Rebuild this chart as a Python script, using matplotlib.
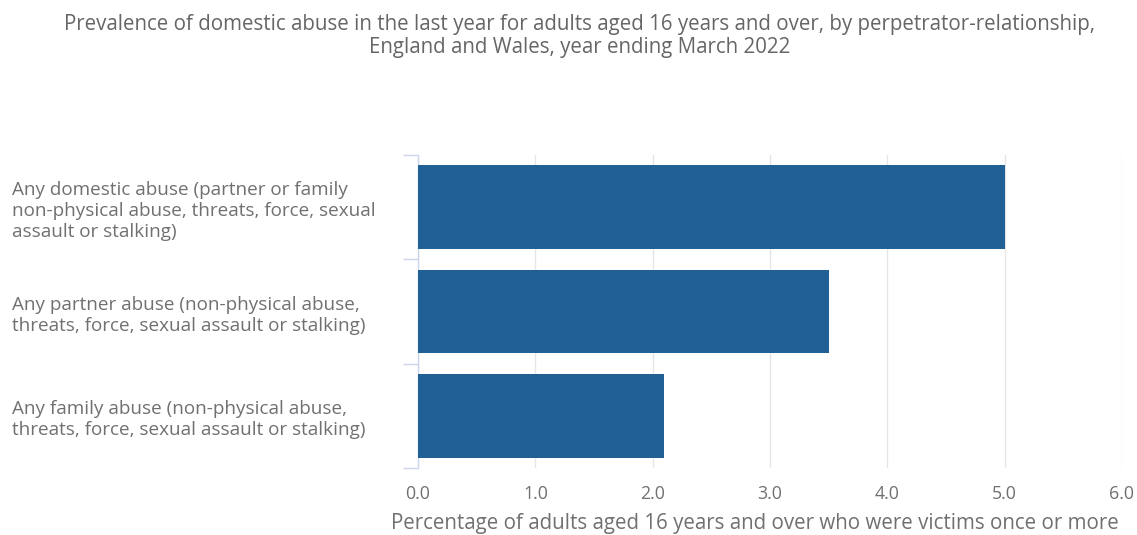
import matplotlib
matplotlib.use("Agg")
import matplotlib.pyplot as plt
from matplotlib import font_manager

categories = [
    "Any domestic abuse (partner or family\nnon-physical abuse, threats, force, sexual\nassault or stalking)",
    "Any partner abuse (non-physical abuse,\nthreats, force, sexual assault or stalking)",
    "Any family abuse (non-physical abuse,\nthreats, force, sexual assault or stalking)",
]
values = [5.0, 3.5, 2.1]
x_ticks = [0.0, 1.0, 2.0, 3.0, 4.0, 5.0, 6.0]
x_tick_labels = ["0.0", "1.0", "2.0", "3.0", "4.0", "5.0", "6.0"]
title = ("Prevalence of domestic abuse in the last year for adults aged 16 years and over, by perpetrator-relationship,\n"
         "England and Wales, year ending March 2022")
x_label = "Percentage of adults aged 16 years and over who were victims once or more"

names = {f.name for f in font_manager.fontManager.ttflist}
body_font = "Open Sans" if "Open Sans" in names else "DejaVu Sans"

BAR = "#206095"
TEXT = "#707070"
AXIS = "#ccd6eb"
GRID = "#e6e6e6"

W, H = 1137, 535
fig = plt.figure(figsize=(W / 100, H / 100), dpi=100)
ax = fig.add_axes([418 / W, 67 / H, 704 / W, 313 / H])

pos = list(range(len(categories)))
ax.barh(pos, values, height=0.8, color=BAR, zorder=3)
ax.set_ylim(len(categories) - 0.5, -0.5)
ax.set_xlim(0, 6)

ax.set_xticks(x_ticks)
ax.set_xticklabels(x_tick_labels, fontfamily=body_font, fontsize=12.8, color=TEXT)
ax.tick_params(axis="x", length=0, pad=12)
ax.grid(axis="x", color=GRID, linewidth=1, zorder=0)

# category labels, left-aligned near the figure's left edge
ax.set_yticks(pos)
ax.set_yticklabels(categories, fontfamily=body_font, fontsize=13.6, color=TEXT,
                   ha="left", linespacing=1.22)
ax.tick_params(axis="y", which="major", length=0, pad=(418 - 12) * 0.72)
ax.set_yticks([-0.5, 0.5, 1.5, 2.5], minor=True)
ax.tick_params(axis="y", which="minor", length=11, width=1, color=AXIS)

for side in ("top", "right", "bottom"):
    ax.spines[side].set_visible(False)
ax.spines["left"].set_color(AXIS)
ax.spines["left"].set_linewidth(1)

fig.text(755 / W, 1 - 524 / H, x_label, ha="center", va="center",
         fontfamily=body_font, fontsize=14.8, color=TEXT)

fig.text(580 / W, 1 - 36 / H, title, ha="center", va="center",
         fontfamily=body_font, fontsize=14.8, color="#666666", linespacing=1.15)

fig.savefig("out.png", dpi=100)
